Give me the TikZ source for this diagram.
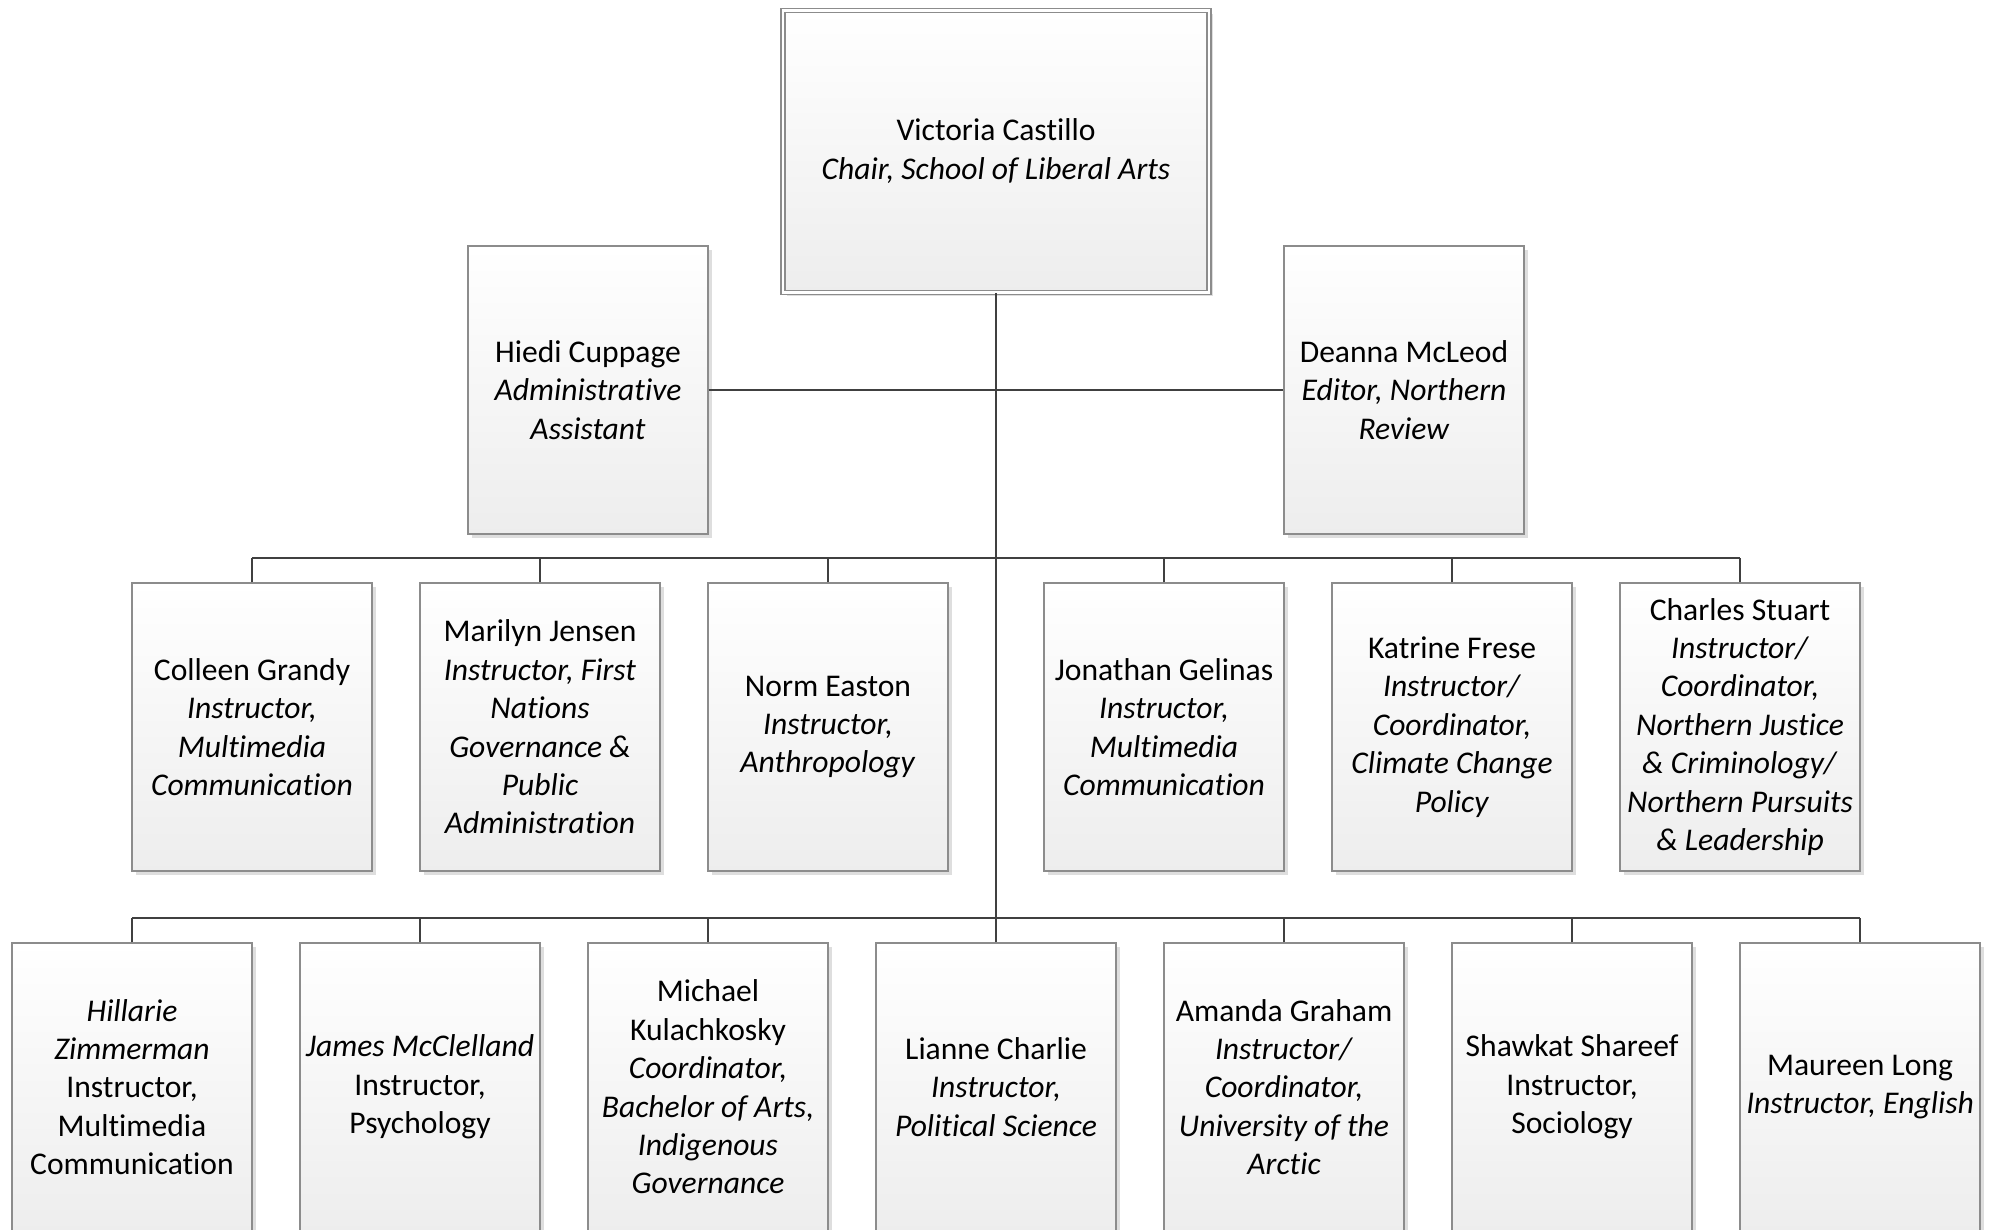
\documentclass[tikz,border=0pt]{standalone}
\usepackage{fontspec}
\setmainfont{Carlito}[Ligatures=NoCommon]
\usetikzlibrary{shadows}

\tikzset{
    person/.style={draw=black!45, line width=0.7pt, top color=white, bottom color=black!7,
        drop shadow={shadow xshift=2pt, shadow yshift=-2pt, fill=black!13, opacity=1},
        minimum width=120pt, minimum height=144pt, inner sep=0pt, align=center,
        font=\fontsize{15.8}{19.2}\selectfont},
    chairbox/.style={person, minimum width=213pt, minimum height=141pt,
        double=white, double distance=1.4pt, line width=0.6pt},
    link/.style={draw=black!75, line width=1.4pt}
}

\begin{document}
\begin{tikzpicture}[x=12pt,y=-12pt]
    \useasboundingbox (0,0) rectangle (83.04,51.21);

    % the chair and the two assistants
    \node[chairbox] (chair) at (41.5,6.3) {Victoria Castillo\\\textit{Chair, School of Liberal Arts}};
    \node[person] (hiedi) at (24.5,16.25) {Hiedi Cuppage\\\textit{Administrative}\\\textit{Assistant}};
    \node[person] (deanna) at (58.5,16.25) {Deanna McLeod\\\textit{Editor, Northern}\\\textit{Review}};

    % the second row
    \node[person] (colleen) at (10.5,30.29) {Colleen Grandy\\\textit{Instructor,}\\\textit{Multimedia}\\\textit{Communication}};
    \node[person] (marilyn) at (22.5,30.29) {Marilyn Jensen\\\textit{Instructor, First}\\\textit{Nations}\\\textit{Governance \&}\\\textit{Public}\\\textit{Administration}};
    \node[person] (norm) at (34.5,30.29) {Norm Easton\\\textit{Instructor,}\\\textit{Anthropology}};
    \node[person] (jonathan) at (48.5,30.29) {Jonathan Gelinas\\\textit{Instructor,}\\\textit{Multimedia}\\\textit{Communication}};
    \node[person] (katrine) at (60.5,30.29) {Katrine Frese\\\textit{Instructor/}\\\textit{Coordinator,}\\\textit{Climate Change}\\\textit{Policy}};
    \node[person] (charles) at (72.5,30.29) {Charles Stuart\\\textit{Instructor/}\\\textit{Coordinator,}\\\textit{Northern Justice}\\\textit{\& Criminology/}\\\textit{Northern Pursuits}\\\textit{\& Leadership}};

    % the third row
    \node[person] (hillarie) at (5.5,45.29) {\textit{Hillarie}\\\textit{Zimmerman}\\Instructor,\\Multimedia\\Communication};
    \node[person] (james) at (17.5,45.29) {\textit{James McClelland}\\Instructor,\\Psychology};
    \node[person] (michael) at (29.5,45.29) {Michael\\Kulachkosky\\\textit{Coordinator,}\\\textit{Bachelor of Arts,}\\\textit{Indigenous}\\\textit{Governance}};
    \node[person] (lianne) at (41.5,45.29) {Lianne Charlie\\\textit{Instructor,}\\\textit{Political Science}};
    \node[person] (amanda) at (53.5,45.29) {Amanda Graham\\\textit{Instructor/}\\\textit{Coordinator,}\\\textit{University of the}\\\textit{Arctic}};
    \node[person] (shawkat) at (65.5,45.29) {Shawkat Shareef\\Instructor,\\Sociology};
    \node[person] (maureen) at (77.5,45.29) {Maureen Long\\\textit{Instructor, English}};

    % the points where the rows hang from the trunk
    \coordinate (bustwo) at (41.5,23.25);
    \coordinate (busthree) at (41.5,38.25);

    % draw the connectors
    \draw[link] (chair.south) -- (busthree);
    \draw[link] (hiedi.east) -- (deanna.west);
    \draw[link] (colleen.north |- bustwo) -- (charles.north |- bustwo);
    \draw[link] (hillarie.north |- busthree) -- (maureen.north |- busthree);
    \foreach \n in {colleen,marilyn,norm,jonathan,katrine,charles}
        \draw[link] (\n.north) -- (\n.north |- bustwo);
    \foreach \n in {hillarie,james,michael,lianne,amanda,shawkat,maureen}
        \draw[link] (\n.north) -- (\n.north |- busthree);

\end{tikzpicture}
\end{document}
